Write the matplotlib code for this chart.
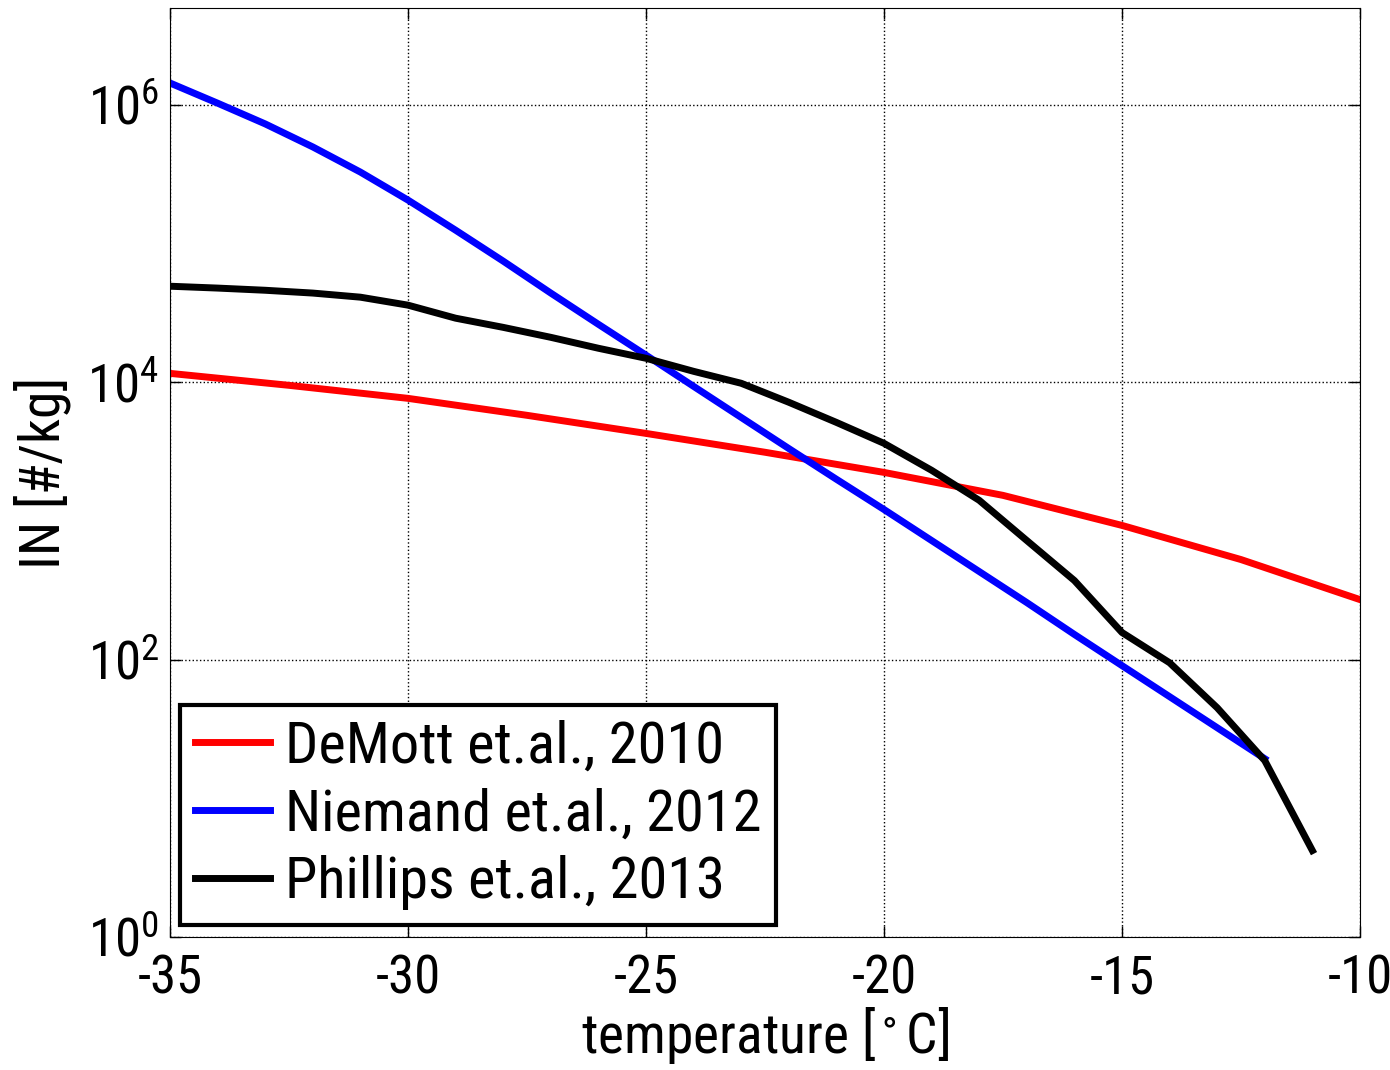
import matplotlib
matplotlib.use('Agg')
import matplotlib.pyplot as plt
import numpy as np

plt.rcParams['font.family'] = ['Roboto Condensed', 'DejaVu Sans']
plt.rcParams['mathtext.fontset'] = 'custom'
plt.rcParams['mathtext.rm'] = 'Roboto Condensed'
plt.rcParams['mathtext.default'] = 'regular'
plt.rcParams['axes.unicode_minus'] = False

# DeMott et al. 2010
T_demott = [-35, -32.5, -30, -27.5, -25, -22.5, -20, -17.5, -15, -12.5, -10]
IN_demott = [11600, 9510, 7660, 5780, 4280, 3130, 2240, 1530, 929, 527, 271]

# Niemand et al. 2012
T_niemand = [-35, -34, -33, -32, -31, -30, -29, -28, -27, -26, -25, -24, -23,
             -22, -21, -20, -19, -18, -17, -16, -15, -14, -13, -12]
IN_niemand = [1.44e6, 1.03e6, 7.3e5, 4.98e5, 3.28e5, 2.06e5, 1.25e5, 7.48e4,
              4.40e4, 2.62e4, 1.57e4, 9350, 5580, 3330, 2000, 1210, 723, 432,
              258, 152, 90.6, 54.1, 32.3, 19.3]

# Phillips et al. 2013
T_phillips = [-35, -34, -33, -32, -31, -30, -29, -28, -27, -26, -25, -24, -23,
              -22, -21, -20, -19, -18, -17, -16, -15, -14, -13, -12, -11]
IN_phillips = [4.93e4, 4.78e4, 4.61e4, 4.40e4, 4.11e4, 3.60e4, 2.90e4, 2.49e4,
               2.11e4, 1.76e4, 1.49e4, 1.20e4, 9840, 7180, 5140, 3630, 2320,
               1410, 723, 372, 157, 95, 45, 18.7, 4.2]

fig = plt.figure(figsize=(13.9, 10.7), dpi=100)
ax = fig.add_axes([0.1223, 0.1243, 0.8561, 0.8682])

lw = 5
ax.semilogy(T_demott, IN_demott, color='r', lw=lw, label='DeMott et.al., 2010')
ax.semilogy(T_niemand, IN_niemand, color='b', lw=lw, label='Niemand et.al., 2012')
ax.semilogy(T_phillips, IN_phillips, color='k', lw=lw, label='Phillips et.al., 2013')

ax.set_xlim(-35, -10)
ax.set_ylim(1, 5e6)
ax.set_xticks(np.arange(-35, -9, 5))
ax.set_yticks([1, 1e2, 1e4, 1e6])
ax.yaxis.set_minor_locator(matplotlib.ticker.NullLocator())
ax.tick_params(which='major', direction='in', length=8, top=True, right=True,
               labelsize=38, width=1)
ax.tick_params(axis='x', pad=12)
ax.tick_params(axis='y', pad=8)
ax.grid(True, which='major', linestyle=':', color='k', linewidth=1)

ax.set_xlabel(r'temperature [$^\circ$C]', fontsize=40, labelpad=0)
ax.set_ylabel('IN [#/kg]', fontsize=40, labelpad=12)

leg = ax.legend(loc='lower left', bbox_to_anchor=(0.0084, 0.0129), borderaxespad=0,
                fontsize=42, handlelength=1.3, handletextpad=0.25, labelspacing=0.22,
                borderpad=0.25, fancybox=False, edgecolor='k', framealpha=1)
leg.get_frame().set_linewidth(3)

plt.savefig('out.png', dpi=100)
